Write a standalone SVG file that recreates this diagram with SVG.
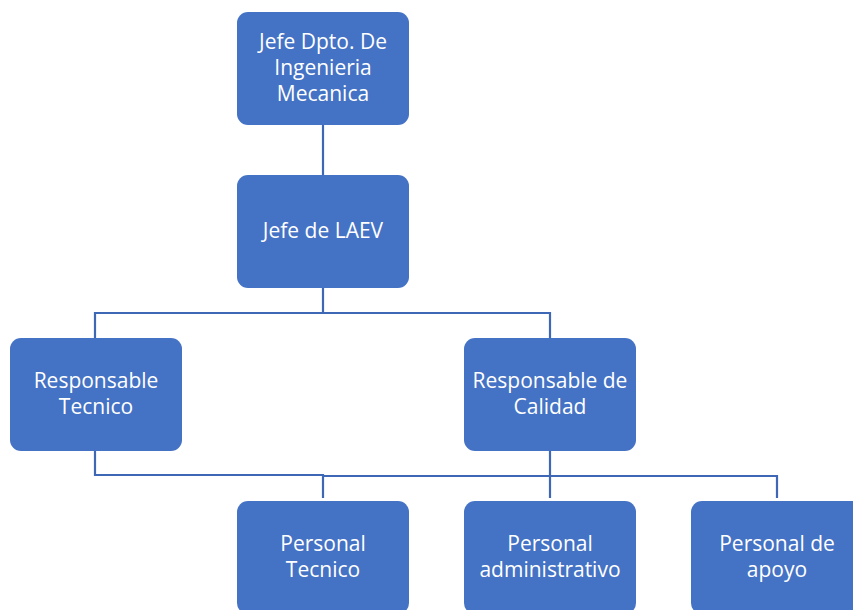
<svg xmlns="http://www.w3.org/2000/svg" width="853" height="610" viewBox="0 0 853 610">
  <style>
    .box { fill: #4472C4; }
    .lbl { fill: #FFFFFF; font-family: "Open Sans", "Liberation Sans", sans-serif; font-size: 21px; text-anchor: middle; }
    .wire { fill: none; stroke: #3E68B5; stroke-width: 2.2; }
  </style>
  <rect width="853" height="610" fill="#FFFFFF"/>

  <!-- connectors -->
  <g id="connectors">
    <path class="wire" d="M323 125 V175"/>
    <path class="wire" d="M323 288 V313 M95 338 V313 H550 V338"/>
    <path class="wire" d="M95 451 V475 H323 V498"/>
    <path class="wire" d="M550 451 V476 M323 476 H777 V498 M550 476 V498"/>
  </g>

  <g id="jefe-dpto">
    <rect class="box" x="237" y="12" width="172" height="113" rx="11"/>
    <text class="lbl" x="323" y="49">Jefe Dpto. De</text>
    <text class="lbl" x="323" y="75">Ingenieria</text>
    <text class="lbl" x="323" y="101">Mecanica</text>
  </g>

  <g id="jefe-laev">
    <rect class="box" x="237" y="175" width="172" height="113" rx="11"/>
    <text class="lbl" x="323" y="238">Jefe de LAEV</text>
  </g>

  <g id="resp-tecnico">
    <rect class="box" x="10" y="338" width="172" height="113" rx="11"/>
    <text class="lbl" x="96" y="388">Responsable</text>
    <text class="lbl" x="96" y="414">Tecnico</text>
  </g>

  <g id="resp-calidad">
    <rect class="box" x="464" y="338" width="172" height="113" rx="11"/>
    <text class="lbl" x="550" y="388">Responsable de</text>
    <text class="lbl" x="550" y="414">Calidad</text>
  </g>

  <g id="personal-tecnico">
    <rect class="box" x="237" y="501" width="172" height="113" rx="11"/>
    <text class="lbl" x="323" y="551">Personal</text>
    <text class="lbl" x="323" y="577">Tecnico</text>
  </g>

  <g id="personal-administrativo">
    <rect class="box" x="464" y="501" width="172" height="113" rx="11"/>
    <text class="lbl" x="550" y="551">Personal</text>
    <text class="lbl" x="550" y="577">administrativo</text>
  </g>

  <g id="personal-apoyo">
    <rect class="box" x="691" y="501" width="172" height="113" rx="11"/>
    <text class="lbl" x="777" y="551">Personal de</text>
    <text class="lbl" x="777" y="577">apoyo</text>
  </g>
</svg>
